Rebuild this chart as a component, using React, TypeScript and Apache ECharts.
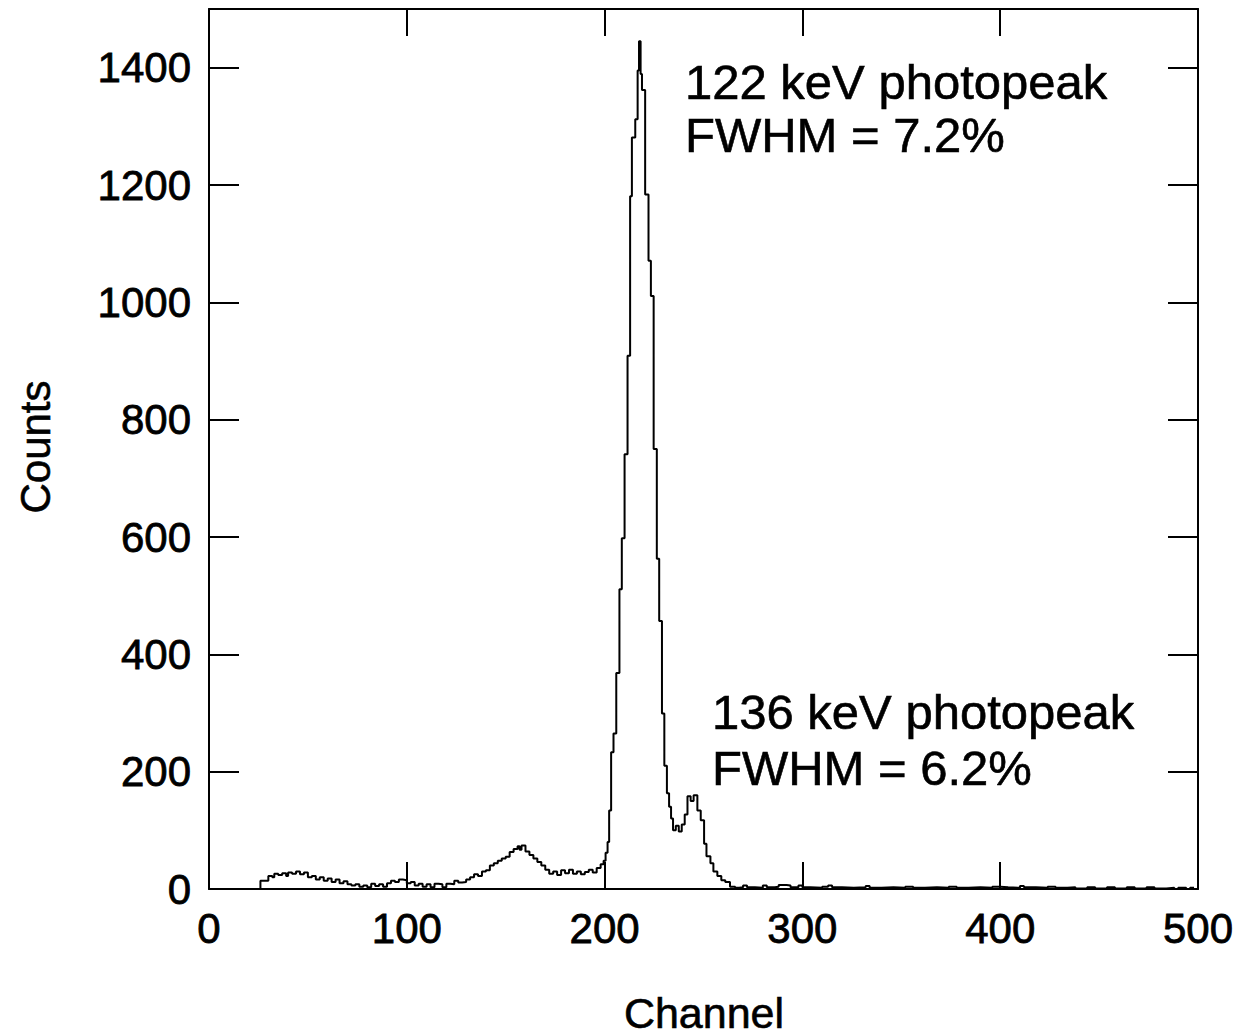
import React, { useEffect, useRef } from "react";
import * as echarts from "echarts";

// Spectrum knots: [channel start of bin, counts]; drawn as a step histogram
const lowChannels = [26, 26, 28, 30, 32, 33, 35, 37, 39, 40, 42, 44, 46, 48, 50, 52, 54, 56, 58, 60, 62, 64, 66, 68, 70, 72, 74, 76, 78, 80, 82, 84, 86, 88, 90, 92, 94, 96, 98, 100, 102, 104, 106, 108, 110, 112, 114, 116, 118, 120, 122, 124, 126, 128, 130, 132, 134, 136, 138, 140, 142, 144, 146, 148, 150, 152, 154, 156, 157, 158, 160, 162, 164, 166, 168, 170, 172, 174, 176, 178, 180, 182, 184, 186, 188, 190, 192, 194, 196, 198, 199.5];
const lowCounts = [0, 14, 14, 22, 20, 26, 24, 27, 22, 28, 26, 30, 25, 28, 20, 22, 16, 20, 14, 18, 12, 16, 10, 13, 8, 6, 8, 4, 6, 3, 9, 5, 8, 4, 10, 14, 12, 16, 15, 10, 12, 6, 9, 4, 8, 3, 9, 8, 3, 9, 8, 14, 11, 12, 16, 20, 25, 22, 30, 32, 40, 44, 48, 52, 55, 63, 68, 73, 67, 74, 64, 58, 52, 46, 40, 33, 26, 30, 24, 32, 27, 33, 26, 30, 25, 29, 33, 28, 36, 42, 48];

const peakChannels = [200.5, 201.5, 202.3, 203.3, 204.5, 205.9, 207.5, 208.7, 210.1, 211.6, 212.9, 213.8, 215.5, 216.7, 217.4, 218.2, 218.9, 220.5, 222.2, 223.4, 224.8, 226.4, 227.6, 229, 230.2, 231.5, 232.6, 233.6, 234.6, 236, 237.5, 239, 240.5, 241.9, 243.5, 245, 246.9, 248.6, 250.3, 251.5, 253.5, 255, 257, 259, 261, 263.4];
const peakCounts = [62, 80, 134, 233, 265, 368, 511, 598, 741, 909, 1181, 1281, 1312, 1395, 1445, 1389, 1362, 1184, 1071, 1011, 750, 563, 457, 299, 210, 163, 140, 120, 100, 108, 98, 110, 127, 158, 150, 160, 134, 117, 77, 56, 44, 30, 22, 15, 12, 4];

const tailChannels = [266, 268, 270, 272, 276, 280, 282, 286, 288, 292, 294, 298, 300, 304, 310, 313, 315, 320, 326, 332, 334, 340, 346, 352, 356, 362, 368, 374, 378, 384, 390, 396, 400, 404, 410, 412, 418, 424, 428, 434, 438, 444, 448, 454, 458, 464, 468, 474, 478, 484, 488, 490, 494, 496, 498];
const tailCounts = [2, 3, 6, 3, 2, 6, 3, 4, 7, 6, 3, 6, 3, 2, 4, 6, 3, 2, 3, 5, 2, 3, 2, 4, 2, 3, 2, 4, 2, 3, 2, 4, 3, 2, 5, 3, 2, 4, 2, 3, 1, 3, 1, 3, 1, 3, 1, 3, 1, 2, 0, 2, 0, 2, 2];

const xTicks = { min: 0, max: 500, interval: 100 };
const yTicks = { min: 0, max: 1500, interval: 200 };

const annotations = [
  { text: "122 keV photopeak", x: 685, y: 82 },
  { text: "FWHM = 7.2%", x: 685, y: 135 },
  { text: "136 keV photopeak", x: 712, y: 712 },
  { text: "FWHM = 6.2%", x: 712, y: 768 },
];

const FONT = "'Liberation Sans', Arial, sans-serif";

export default function App() {
  const ref = useRef<HTMLDivElement>(null);
  useEffect(() => {
    document.body.style.margin = "0";
    if (!ref.current) return;
    const chart = echarts.init(ref.current, null, { renderer: "svg" });
    const channels = [...lowChannels, ...peakChannels, ...tailChannels];
    const counts = [...lowCounts, ...peakCounts, ...tailCounts];
    const data = channels.map((c, i) => [c, counts[i]]);
    const axisLine = { show: true, onZero: false, lineStyle: { color: "#000", width: 2 } };
    const tick = (len: number) => ({ show: true, inside: true, length: len, lineStyle: { color: "#000", width: 2 } });
    const label = {
      color: "#000",
      fontSize: 42,
      fontFamily: FONT,
      textBorderColor: "#000",
      textBorderWidth: 0.8,
      formatter: (v: number) => String(v),
    };
    const textStyle = (size: number) => ({
      fill: "#000",
      font: `${size}px ${FONT}`,
      stroke: "#000",
      lineWidth: 0.6,
    });
    chart.setOption({
      animation: false,
      backgroundColor: "#fff",
      grid: { left: 209, top: 9, right: 40, bottom: 147, containLabel: false },
      xAxis: [
        {
          type: "value",
          ...xTicks,
          position: "bottom",
          axisLine,
          axisTick: tick(27),
          axisLabel: { ...label, margin: 18 },
          splitLine: { show: false },
        },
        {
          type: "value",
          ...xTicks,
          position: "top",
          axisLine,
          axisTick: tick(27),
          axisLabel: { show: false },
          splitLine: { show: false },
        },
      ],
      yAxis: [
        {
          type: "value",
          ...yTicks,
          position: "left",
          axisLine,
          axisTick: tick(30),
          axisLabel: { ...label, margin: 18, showMaxLabel: false },
          splitLine: { show: false },
        },
        {
          type: "value",
          ...yTicks,
          position: "right",
          axisLine,
          axisTick: tick(30),
          axisLabel: { show: false },
          splitLine: { show: false },
        },
      ],
      series: [
        {
          type: "line",
          step: "end",
          data,
          showSymbol: false,
          symbol: "none",
          lineStyle: { color: "#000", width: 2 },
          xAxisIndex: 0,
          yAxisIndex: 0,
        },
      ],
      graphic: [
        ...annotations.map((a) => ({
          type: "text",
          x: a.x,
          y: a.y,
          style: { text: a.text, ...textStyle(49), align: "left", verticalAlign: "middle" },
        })),
        {
          type: "text",
          x: 35,
          y: 447,
          rotation: Math.PI / 2,
          style: { text: "Counts", ...textStyle(42), align: "center", verticalAlign: "middle" },
        },
        {
          type: "text",
          x: 704,
          y: 1013,
          style: { text: "Channel", ...textStyle(43), align: "center", verticalAlign: "middle" },
        },
      ],
    });
    return () => chart.dispose();
  }, []);
  return <div ref={ref} style={{ width: 1238, height: 1036 }} />;
}
